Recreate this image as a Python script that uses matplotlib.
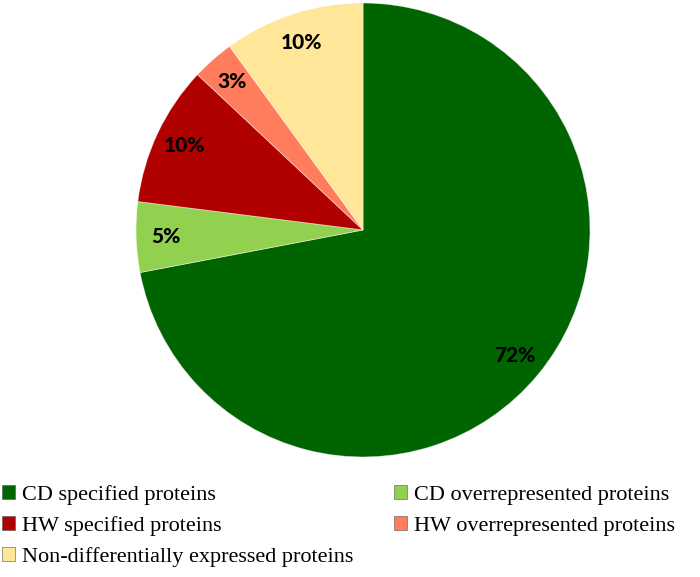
import matplotlib.pyplot as plt
from matplotlib.patches import Patch

# 数据
labels = ['CD specified proteins', 'CD overrepresented proteins', 'HW specified proteins',
          'HW overrepresented proteins', 'Non-differentially expressed proteins']
values = [72, 5, 10, 3, 10]
colors = ['#006400', '#92d050', '#b00000', '#ff7c5c', '#ffe699']

fig = plt.figure(figsize=(7.0, 5.77), dpi=100)
ax = fig.add_axes([0.1943, 0.2080, 0.6486, 0.7868])

wedges, texts, autotexts = ax.pie(values, colors=colors, startangle=90, counterclock=False,
                                  autopct='%d%%', pctdistance=0.87,
                                  wedgeprops=dict(linewidth=0.6, edgecolor='#ffffff80'))
for t in autotexts:
    t.set_fontfamily('Lato')
    t.set_fontweight('black')
    t.set_fontsize(15)
    t.set_color('black')
ax.set_aspect('equal')
ax.set_xlim(-1, 1)
ax.set_ylim(-1, 1)

# 图例：两列，按行排列
order = [0, 2, 4, 1, 3]
handles = [Patch(facecolor=colors[i], edgecolor='#555555', linewidth=0.4) for i in order]
fig.legend(handles, [labels[i] for i in order], loc='upper left', ncol=2,
           bbox_to_anchor=(0.003, 1 - 485 / 577), frameon=False,
           prop={'family': 'Liberation Serif', 'size': 16},
           handlelength=0.6, handleheight=0.6, handletextpad=0.3,
           labelspacing=0.5, columnspacing=1.83, borderaxespad=0, borderpad=0)

fig.savefig('out.png', dpi=100)
